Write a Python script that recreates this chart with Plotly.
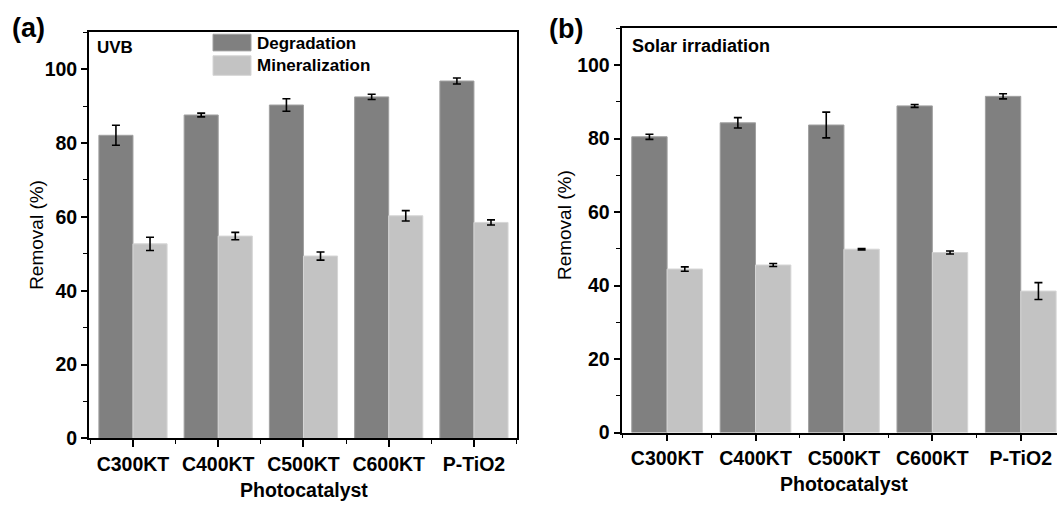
import plotly.graph_objects as go

categories = ["C300KT", "C400KT", "C500KT", "C600KT", "P-TiO2"]
cat_pos = [0, 1, 2, 3, 4]

# Panel (a) UVB
uvb_deg = [82.1, 87.6, 90.3, 92.5, 96.8]
uvb_deg_err = [2.7, 0.5, 1.7, 0.7, 0.8]
uvb_min = [52.7, 54.8, 49.4, 60.3, 58.5]
uvb_min_err = [1.8, 1.0, 1.1, 1.4, 0.7]

# Panel (b) Solar irradiation
sol_deg = [80.5, 84.3, 83.7, 88.9, 91.5]
sol_deg_err = [0.7, 1.4, 3.5, 0.4, 0.7]
sol_min = [44.5, 45.6, 49.9, 49.0, 38.5]
sol_min_err = [0.6, 0.4, 0.2, 0.4, 2.3]

DARK = "#808080"
LIGHT = "#c3c3c3"
W, H = 1057, 513
FONT = "Liberation Sans, Arial, sans-serif"

fig = go.Figure()

def add_bars(xa, ya, deg, deg_err, mn, mn_err):
    fig.add_trace(go.Bar(
        x=cat_pos, y=deg, xaxis=xa, yaxis=ya, name="Degradation",
        marker=dict(color=DARK, line=dict(color="#a0a0a0", width=1)),
        error_y=dict(type="data", array=deg_err, color="black", thickness=1.6, width=4),
        showlegend=False, offsetgroup="1"))
    fig.add_trace(go.Bar(
        x=cat_pos, y=mn, xaxis=xa, yaxis=ya, name="Mineralization",
        marker=dict(color=LIGHT, line=dict(color="#d6d6d6", width=1)),
        error_y=dict(type="data", array=mn_err, color="black", thickness=1.6, width=4),
        showlegend=False, offsetgroup="2"))

add_bars("x", "y", uvb_deg, uvb_deg_err, uvb_min, uvb_min_err)
add_bars("x2", "y2", sol_deg, sol_deg_err, sol_min, sol_min_err)

def px_x(p):
    return p / W

def px_y(p):
    return (H - p) / H

tickfont = dict(family=FONT, size=19.5, color="black", weight="bold")

xcommon = dict(
    tickmode="array", tickvals=cat_pos, ticktext=categories,
    ticks="outside", ticklen=7, tickwidth=1.6, tickcolor="black",
    showline=True, linecolor="black", linewidth=1.8, mirror=True,
    showgrid=False, zeroline=False, tickfont=tickfont,
    minor=dict(tickmode="linear", tick0=0.5, dtick=1, ticks="outside",
               ticklen=4, tickwidth=1.4, tickcolor="black", showgrid=False),
)
ycommon = dict(
    range=[0, 110], tickmode="linear", tick0=0, dtick=20,
    ticks="outside", ticklen=6, tickwidth=1.6, tickcolor="black",
    showline=True, linecolor="black", linewidth=1.8,
    showgrid=False, zeroline=False, tickfont=tickfont,
    minor=dict(tickmode="linear", tick0=10, dtick=20, ticks="outside",
               ticklen=4, tickwidth=1.4, tickcolor="black", showgrid=False),
)

fig.update_layout(
    width=W, height=H,
    margin=dict(l=0, r=0, t=0, b=0),
    paper_bgcolor="white", plot_bgcolor="white",
    barmode="group", bargap=0.2, bargroupgap=0,
    font=dict(family=FONT, color="black"),
    xaxis=dict(domain=[px_x(89), px_x(517)], range=[-0.516, 4.505], anchor="y", **xcommon),
    yaxis=dict(domain=[px_y(448), px_y(33)], anchor="x", mirror=True, **ycommon),
    xaxis2=dict(domain=[px_x(621.5), 1.0], range=[-0.516, 4.41], anchor="y2", **xcommon),
    yaxis2=dict(domain=[px_y(442), px_y(29)], anchor="x2", mirror=False, **ycommon),
)

ann = []
def text(x, y, s, size, bold=True, xanchor="center", angle=0):
    ann.append(dict(xref="paper", yref="paper", x=px_x(x), y=px_y(y), text=s,
                    showarrow=False, xanchor=xanchor, yanchor="middle", textangle=angle,
                    font=dict(family=FONT, size=size, color="black",
                              weight="bold" if bold else "normal")))

text(28, 29, "(a)", 27)
text(566, 30, "(b)", 27)
text(95, 49, "UVB", 17, xanchor="left")
text(630, 47, "Solar irradiation", 18, xanchor="left")
text(304, 501, "Photocatalyst", 19.5)
text(844, 495, "Photocatalyst", 19.5)
text(37, 240, "Removal (%)", 19, bold=False, angle=-90)
text(564, 230, "Removal (%)", 19, bold=False, angle=-90)
text(255, 44, "Degradation", 17, xanchor="left")
text(255, 67, "Mineralization", 17, xanchor="left")
fig.update_layout(annotations=ann)

shapes = [
    dict(type="rect", xref="paper", yref="paper", x0=px_x(213), x1=px_x(251),
         y0=px_y(52), y1=px_y(35), fillcolor=DARK, line=dict(color="#a0a0a0", width=1)),
    dict(type="rect", xref="paper", yref="paper", x0=px_x(213), x1=px_x(251),
         y0=px_y(77), y1=px_y(57), fillcolor=LIGHT, line=dict(color="#d6d6d6", width=1)),
]
fig.update_layout(shapes=shapes)

post = """
document.documentElement.style.margin='0';
document.documentElement.style.padding='0';
document.documentElement.style.overflow='hidden';
document.body.style.margin='0';
document.body.style.padding='0';
document.body.style.overflow='hidden';
"""

fig.write_html("out.html", config={"displayModeBar": False}, post_script=post)
